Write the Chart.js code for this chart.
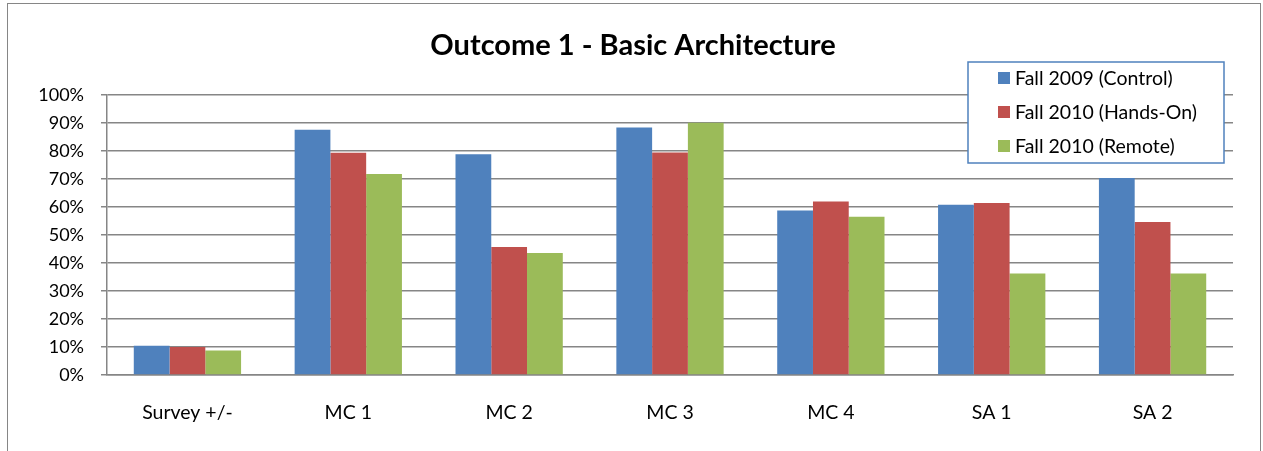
<!DOCTYPE html>
<html>
<head>
<meta charset="utf-8">
<script src="https://cdn.jsdelivr.net/npm/chart.js@4/dist/chart.umd.min.js"></script>
<style>
    html, body { margin: 0; padding: 0; background: #fff; overflow: hidden; }
    #frame {
        position: absolute; left: 7px; top: 3px;
        width: 1252px; height: 500px;
        border: 1.5px solid #868686;
    }
    #wrap { position: absolute; left: 0; top: 0; width: 1263px; height: 451px; }
</style>
</head>
<body>
<div id="frame"></div>
<div id="wrap"><canvas id="outcomeChart" width="1263" height="451"></canvas></div>
<script>
// Chart data (percent)
const categories = ['Survey +/-', 'MC 1', 'MC 2', 'MC 3', 'MC 4', 'SA 1', 'SA 2'];
const seriesNames = ['Fall 2009 (Control)', 'Fall 2010 (Hands-On)', 'Fall 2010 (Remote)'];
const fall2009Control = [10.4, 87.5, 78.8, 88.3, 58.7, 60.8, 70.3];
const fall2010HandsOn = [10.0, 79.3, 45.7, 79.4, 61.9, 61.4, 54.6];
const fall2010Remote = [8.7, 71.7, 43.5, 90.0, 56.5, 36.2, 36.2];
const seriesColors = ['#4F81BD', '#C0504D', '#9BBB59'];

const fontFamily = 'Lato, "Open Sans", sans-serif';
const gridColor = '#868686';

// Excel-style boxed legend drawn inside the plot area
const boxLegend = {
    id: 'boxLegend',
    afterDraw(chart) {
        const ctx = chart.ctx;
        const x = 968, y = 62, w = 256, h = 101;
        ctx.save();
        ctx.fillStyle = '#fff';
        ctx.fillRect(x, y, w, h);
        ctx.strokeStyle = '#4F81BD';
        ctx.lineWidth = 1.5;
        ctx.strokeRect(x, y, w, h);
        ctx.font = '19.5px ' + fontFamily;
        ctx.textBaseline = 'middle';
        chart.data.datasets.forEach((ds, i) => {
            const cy = y + 16 + i * 34;
            ctx.fillStyle = ds.backgroundColor;
            ctx.fillRect(x + 30, cy - 6, 12, 12);
            ctx.fillStyle = '#000';
            ctx.fillText(ds.label, x + 47, cy + 1);
        });
        ctx.restore();
    }
};

const chart = new Chart(document.getElementById('outcomeChart'), {
    type: 'bar',
    data: {
        labels: categories,
        datasets: [
            { label: seriesNames[0], data: fall2009Control, backgroundColor: seriesColors[0] },
            { label: seriesNames[1], data: fall2010HandsOn, backgroundColor: seriesColors[1] },
            { label: seriesNames[2], data: fall2010Remote, backgroundColor: seriesColors[2] }
        ]
    },
    options: {
        responsive: false,
        animation: false,
        datasets: {
            bar: { barPercentage: 1, categoryPercentage: 0.667, borderWidth: 0 }
        },
        layout: { padding: { left: 16, right: 13, top: 0, bottom: 0 } },
        plugins: {
            legend: { display: false },
            tooltip: { enabled: false },
            title: {
                display: true,
                text: 'Outcome 1 - Basic Architecture',
                color: '#000',
                font: { family: fontFamily, size: 29, weight: 'bold', lineHeight: 1.2 },
                padding: { top: 28, bottom: 32 }
            }
        },
        scales: {
            x: {
                grid: { display: false, drawTicks: false },
                border: { display: true, color: gridColor, width: 1.5 },
                ticks: { color: '#000', font: { family: fontFamily, size: 19.5 }, padding: 26 },
                afterFit(scale) { scale.height = 76; }
            },
            y: {
                min: 0,
                max: 100,
                ticks: {
                    stepSize: 10,
                    color: '#000',
                    font: { family: fontFamily, size: 18 },
                    padding: 17,
                    callback: v => v + '%'
                },
                grid: { color: gridColor, lineWidth: 1.5, tickLength: 6 },
                border: { display: true, color: gridColor, width: 1.5 },
                afterFit(scale) { scale.width = 91; }
            },
            // empty spacer on the right so the plot ends where the original does
            spacer: {
                axis: 'y',
                position: 'right',
                grid: { display: false, drawTicks: false },
                border: { display: false },
                ticks: { display: false },
                afterFit(scale) { scale.width = 17; }
            }
        }
    },
    plugins: [boxLegend]
});
</script>
</body>
</html>
